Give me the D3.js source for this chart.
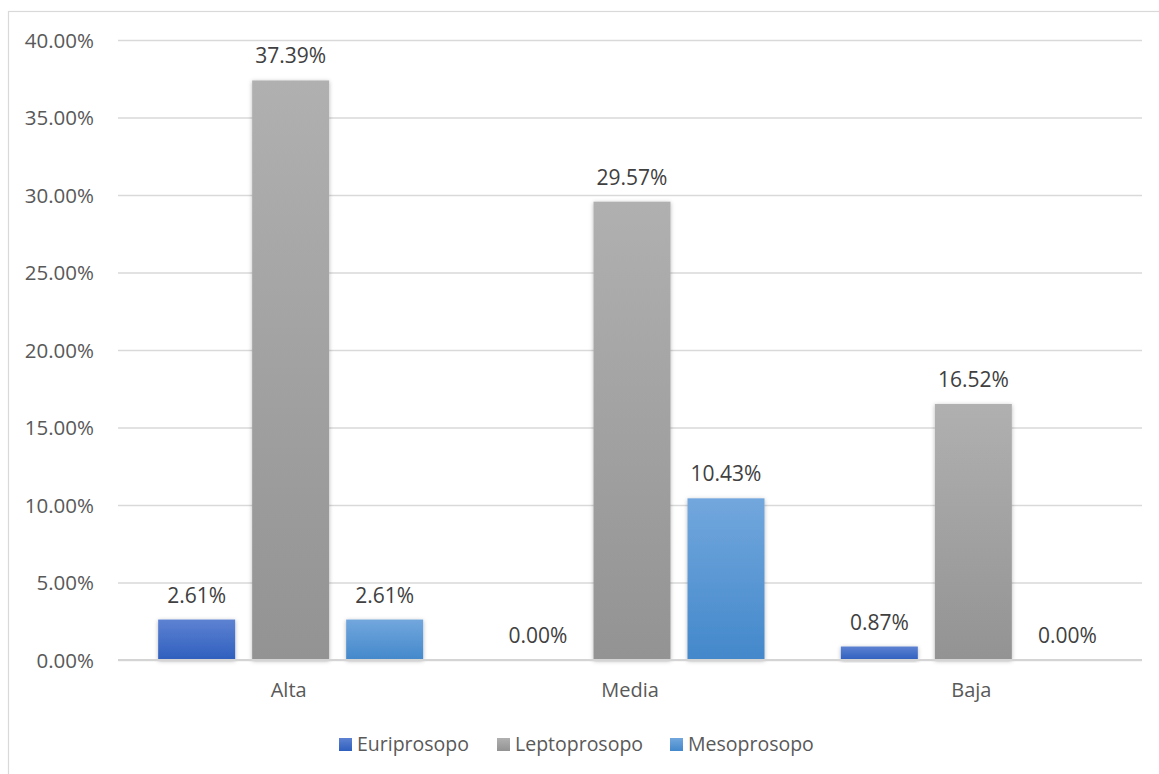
<!DOCTYPE html>
<html>
<head>
<meta charset="utf-8">
<script src="https://cdn.jsdelivr.net/npm/d3@7"></script>
<style>
  body { margin: 0; background: #fff; }
  text { font-family: "Open Sans", "Noto Sans", sans-serif; fill: #595959; }
</style>
</head>
<body>
<script>
// data
const categories = ["Alta", "Media", "Baja"];
const series = ["Euriprosopo", "Leptoprosopo", "Mesoprosopo"];
const euriprosopo = [2.61, 0.00, 0.87];
const leptoprosopo = [37.39, 29.57, 16.52];
const mesoprosopo = [2.61, 10.43, 0.00];
const yTicks = [0, 5, 10, 15, 20, 25, 30, 35, 40];

const values = [euriprosopo, leptoprosopo, mesoprosopo];
const rows = [];
categories.forEach((c, ci) => {
  series.forEach((s, si) => rows.push({cat: c, ser: s, si: si, v: values[si][ci]}));
});

const W = 1159, H = 774;
const margin = {top: 40, right: 17, bottom: 114, left: 118};

const svg = d3.select("body").append("svg")
  .attr("width", W).attr("height", H);

// gradients per series
const grads = [["#5d82d2", "#2f5fbe"], ["#b0b0b0", "#939393"], ["#72a7dd", "#4388cb"]];
const defs = svg.append("defs");
grads.forEach((g, i) => {
  const lg = defs.append("linearGradient").attr("id", "g" + i)
    .attr("x1", 0).attr("y1", 0).attr("x2", 0).attr("y2", 1);
  lg.append("stop").attr("offset", "0%").attr("stop-color", g[0]);
  lg.append("stop").attr("offset", "100%").attr("stop-color", g[1]);
});
const f = defs.append("filter").attr("id", "shadow")
  .attr("x", "-20%").attr("y", "-20%").attr("width", "140%").attr("height", "140%");
f.append("feDropShadow").attr("dx", 0).attr("dy", 1).attr("stdDeviation", 2.2)
  .attr("flood-color", "#000").attr("flood-opacity", 0.28);

// chart border (only left/top visible in frame)
svg.append("rect").attr("x", 8.5).attr("y", 11.5)
  .attr("width", W + 20).attr("height", H + 20)
  .attr("fill", "none").attr("stroke", "#d9d9d9").attr("stroke-width", 1.2);

const x0 = d3.scaleBand().domain(categories)
  .range([margin.left, W - margin.right]).paddingInner(0).paddingOuter(0);
const y = d3.scaleLinear().domain([0, 40]).range([H - margin.bottom, margin.top]);

const barW = 77, gap = 17;
const groupW = 3 * barW + 2 * gap;
const x1 = d3.scaleBand().domain(series)
  .range([0, groupW]).paddingInner(gap / (barW + gap)).paddingOuter(0);

// gridlines
const grid = svg.append("g")
  .attr("transform", `translate(${margin.left},0)`)
  .call(d3.axisLeft(y).tickValues(yTicks).tickSize(-(W - margin.left - margin.right)).tickFormat(""));
grid.select(".domain").remove();
grid.selectAll(".tick line").attr("stroke", "#d9d9d9").attr("stroke-width", 1.5);

// y tick labels
const yAx = svg.append("g")
  .attr("transform", `translate(${margin.left - 21},0)`)
  .call(d3.axisLeft(y).tickValues(yTicks).tickSize(0).tickFormat(d => d.toFixed(2) + "%"));
yAx.select(".domain").remove();
yAx.selectAll("text").attr("font-size", 20.5).attr("fill", "#595959")
  .style("font-family", '"Open Sans", sans-serif').attr("dy", "0.35em");

// bars
const offset = (x0.bandwidth() - groupW) / 2;
svg.append("g").selectAll("rect").data(rows).join("rect")
  .attr("x", d => x0(d.cat) + offset + x1(d.ser) + 2)
  .attr("width", x1.bandwidth())
  .attr("y", d => y(d.v))
  .attr("height", d => y(0) - y(d.v))
  .attr("fill", d => `url(#g${d.si})`)
  .attr("filter", d => d.v > 0 ? "url(#shadow)" : null);

// baseline
svg.append("line")
  .attr("x1", margin.left).attr("x2", W - margin.right)
  .attr("y1", y(0)).attr("y2", y(0))
  .attr("stroke", "#d4d4d4").attr("stroke-width", 2);

// value labels
svg.append("g").selectAll("text").data(rows).join("text")
  .attr("x", d => x0(d.cat) + offset + x1(d.ser) + 2 + x1.bandwidth() / 2)
  .attr("y", d => y(d.v) - 17)
  .attr("text-anchor", "middle")
  .attr("font-size", 21)
  .style("fill", "#404040")
  .text(d => d.v.toFixed(2) + "%");

// category labels
const xAx = svg.append("g")
  .attr("transform", `translate(0,${y(0)})`)
  .call(d3.axisBottom(x0).tickSize(0).tickPadding(23));
xAx.select(".domain").remove();
xAx.selectAll("text").attr("font-size", 20).attr("fill", "#595959")
  .style("font-family", '"Open Sans", sans-serif');

// legend
const legX = [339, 497, 670];
const leg = svg.append("g").selectAll("g").data(series).join("g")
  .attr("transform", (d, i) => `translate(${legX[i]},738)`);
leg.append("rect").attr("width", 13).attr("height", 13)
  .attr("fill", (d, i) => `url(#g${i})`);
leg.append("text").attr("x", 18).attr("y", 6.5).attr("dy", "0.35em")
  .attr("font-size", 19.5).text(d => d);
</script>
</body>
</html>
